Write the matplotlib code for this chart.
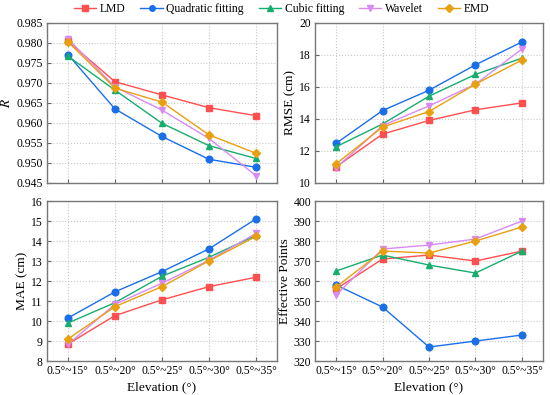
import matplotlib
matplotlib.use("Agg")
import matplotlib.pyplot as plt
from matplotlib.lines import Line2D

plt.rcParams['font.family'] = ['Liberation Serif', 'DejaVu Serif']
plt.rcParams['mathtext.fontset'] = 'stix'

elevations = ['0.5°~15°', '0.5°~20°', '0.5°~25°', '0.5°~30°', '0.5°~35°']
methods = ['LMD', 'Quadratic fitting', 'Cubic fitting', 'Wavelet', 'EMD']
colors = ['#FF4F4F', '#1A6FE8', '#17AD6E', '#D98AF2', '#E8A010']
markers = ['s', 'o', '^', 'v', 'D']

r_vals = {
    'LMD': [0.9804, 0.9703, 0.9670, 0.9638, 0.9618],
    'Quadratic fitting': [0.9771, 0.9635, 0.9566, 0.9509, 0.9489],
    'Cubic fitting': [0.9767, 0.9682, 0.9599, 0.9543, 0.9511],
    'Wavelet': [0.9810, 0.9690, 0.9632, 0.9561, 0.9468],
    'EMD': [0.9803, 0.9687, 0.9652, 0.9570, 0.9524],
}
rmse_vals = {
    'LMD': [11.0, 13.05, 13.9, 14.57, 15.0],
    'Quadratic fitting': [12.47, 14.52, 15.79, 17.38, 18.81],
    'Cubic fitting': [12.26, 13.68, 15.42, 16.78, 17.80],
    'Wavelet': [10.94, 13.58, 14.81, 16.17, 18.37],
    'EMD': [11.19, 13.49, 14.46, 16.17, 17.68],
}
mae_vals = {
    'LMD': [8.85, 10.27, 11.06, 11.72, 12.19],
    'Quadratic fitting': [10.15, 11.46, 12.47, 13.61, 15.11],
    'Cubic fitting': [9.90, 10.92, 12.24, 13.19, 14.28],
    'Wavelet': [8.83, 10.84, 11.89, 13.04, 14.38],
    'EMD': [9.10, 10.72, 11.72, 13.01, 14.23],
}
points_vals = {
    'LMD': [356, 371, 373, 370, 375],
    'Quadratic fitting': [358, 347, 327, 330, 333],
    'Cubic fitting': [365, 373, 368, 364, 375],
    'Wavelet': [353, 376, 378, 381, 390],
    'EMD': [357, 375, 374, 380, 387],
}

fig = plt.figure(figsize=(5.5, 3.95), dpi=100)
ax_r = fig.add_axes([0.085, 0.537, 0.419, 0.405])
ax_rmse = fig.add_axes([0.573, 0.537, 0.414, 0.405])
ax_mae = fig.add_axes([0.085, 0.086, 0.419, 0.405])
ax_pts = fig.add_axes([0.573, 0.086, 0.414, 0.405])

panels = [
    (ax_r, r_vals, '$R$', (0.945, 0.985), 0.005, '{:.3f}'),
    (ax_rmse, rmse_vals, 'RMSE (cm)', (10, 20), 2, '{:.0f}'),
    (ax_mae, mae_vals, 'MAE (cm)', (8, 16), 1, '{:.0f}'),
    (ax_pts, points_vals, 'Effective Points', (320, 400), 10, '{:.0f}'),
]

x = list(range(len(elevations)))
for ax, data, ylabel, ylim, step, fmt in panels:
    for m, c, mk in zip(methods, colors, markers):
        ax.plot(x, data[m], color=c, marker=mk, markersize=4.8 if mk != 'D' else 4.3,
                linewidth=1.0, zorder=3)
    ax.set_xlim(-0.45, 4.45)
    ax.set_ylim(*ylim)
    n = int(round((ylim[1] - ylim[0]) / step))
    ticks = [ylim[0] + i * step for i in range(n + 1)]
    ax.set_yticks(ticks)
    ax.set_yticklabels([fmt.format(t) for t in ticks])
    ax.set_xticks(x)
    ax.grid(True, color='#C8C8C8', linestyle=':', linewidth=0.8)
    ax.tick_params(direction='in', labelsize=8.4, color='#666666', length=3, pad=3)
    for s in ax.spines.values():
        s.set_color('#777777')
        s.set_linewidth(1.0)
    ax.set_ylabel(ylabel, fontsize=9.6, labelpad=2)

for ax in (ax_r, ax_rmse):
    ax.set_xticklabels([])
for ax in (ax_mae, ax_pts):
    ax.set_xticklabels(elevations)
    ax.set_xlabel('Elevation (°)', fontsize=9.6, labelpad=3)

handles = [Line2D([0], [0], color=c, marker=mk, markersize=4, linewidth=1.0)
           for c, mk in zip(colors, markers)]
fig.legend(handles, methods, loc='upper center', bbox_to_anchor=(0.512, 1.02), ncol=5,
           frameon=False, fontsize=8.4, handlelength=1.9, columnspacing=1.3, handletextpad=0.3)

fig.savefig('out.png', dpi=100)
